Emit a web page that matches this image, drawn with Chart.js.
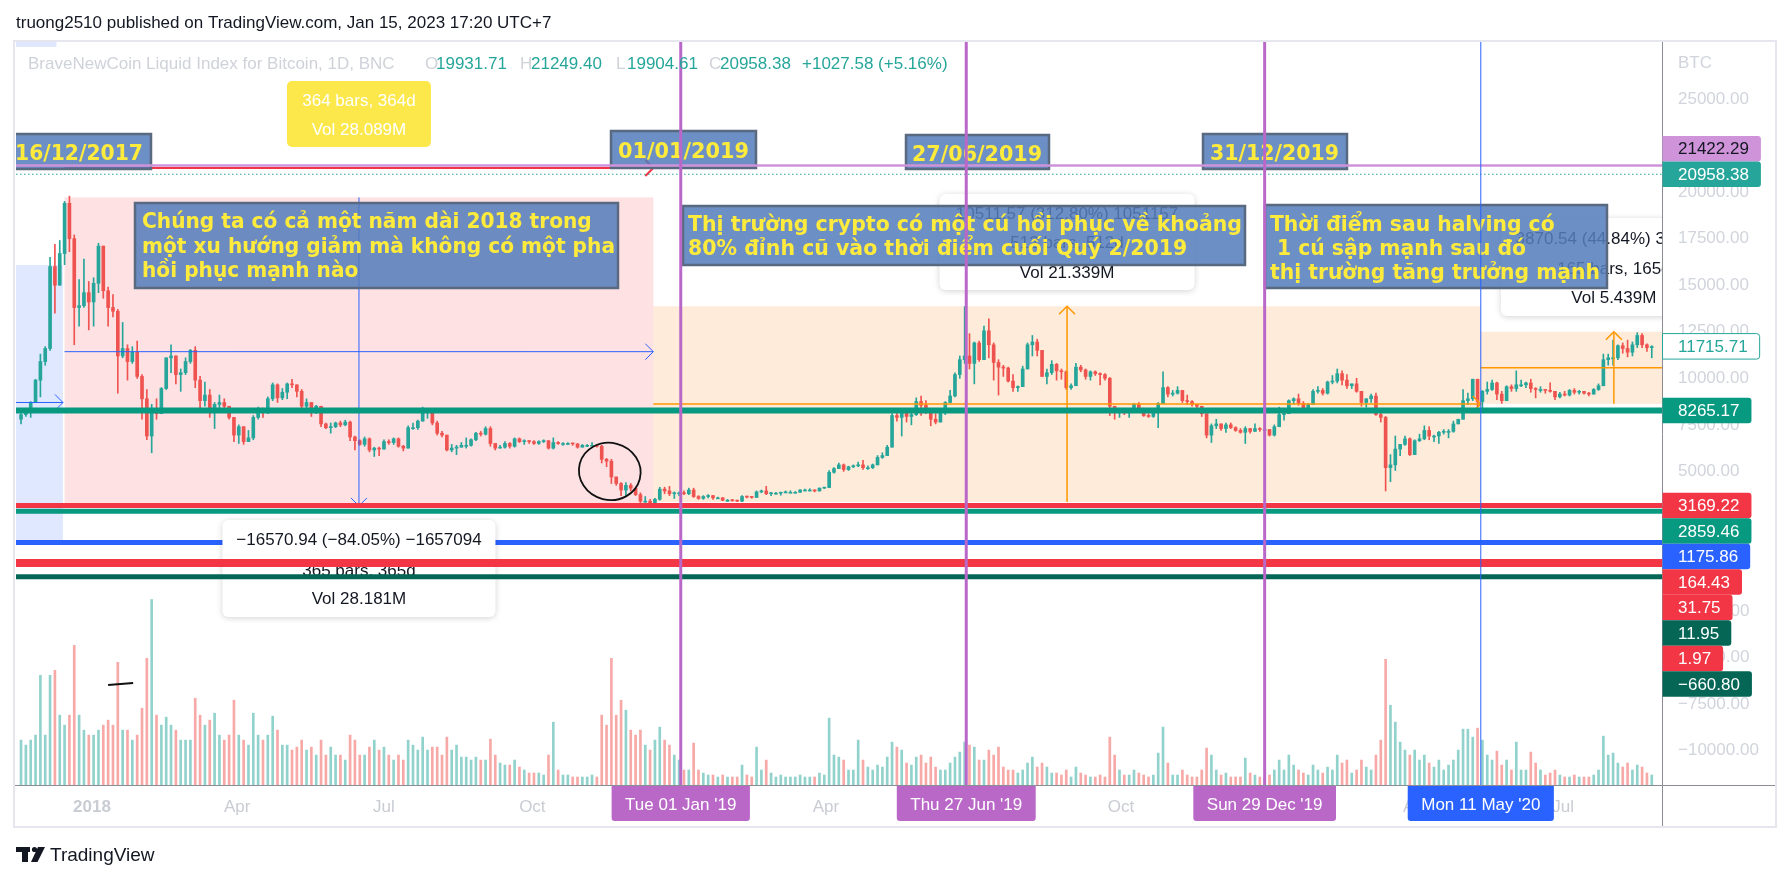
<!DOCTYPE html>
<html>
<head>
<meta charset="utf-8">
<title>BraveNewCoin Liquid Index for Bitcoin, 1D</title>
<script src="https://cdn.jsdelivr.net/npm/chart.js@4.4.1/dist/chart.umd.min.js"></script>
<style>
  html, body { margin: 0; padding: 0; background: #fff; }
  canvas { display: block; }
</style>
</head>
<body>
<canvas id="chart" width="1791" height="880"></canvas>
<script>
// 3-day candles. x values are days counted from 1 Jan 2018.
const firstDay = -44;
const stepDays = 3;
const firstOpen = 7800;

const closes = [
  // 17 Nov 2017
  8050, 8250, 8700, 9900, 10900, 11600, 16000, 15000, 16700, 19400, 17500, 13800, 13900, 14600, 14100,
  // 2018
  15100, 17100, 14700, 13800, 13600, 11200, 11600, 10900, 11400, 10100,
  8900, 6900, 8200, 8100, 9450, 11100, 11200, 10200, 10300, 10900,
  11500, 9900, 8800, 9100, 8300, 8600, 8700, 8500, 7900, 6950,
  7400, 6600, 6800, 7900, 8350, 8200, 8900, 9650, 8950, 9250,
  9700, 9650, 9300, 8500, 8700, 8250, 8500, 7550, 7350, 7400,
  7600, 7500, 7650, 6850, 6650, 6450, 6750, 6150, 6250, 6200,
  6600, 6550, 6750, 6350, 6250, 7350, 7350, 7700, 8200, 8200,
  7600, 7050, 6950, 6150, 6250, 6300, 6400, 6400, 6700, 7050,
  7000, 7300, 6500, 6250, 6300, 6500, 6350, 6750, 6600, 6650,
  6600, 6500, 6600, 6650, 6250, 6550, 6500, 6500, 6500, 6480,
  6300, 6400, 6400, 6400, 6350, 5650, 5550, 4700, 4350, 4000,
  4250, 4100, 3750, 3400, 3400, 3250, 3500, 4050, 3950, 3800,
  3850, 3850,
  // 2019
  3800, 4000, 3650, 3550, 3650, 3700, 3580, 3580, 3450, 3450,
  3420, 3400, 3650, 3620, 3600, 3900, 3950, 3800, 3830, 3830,
  3850, 3880, 3880, 3880, 4000, 4000, 4000, 3950, 4100, 4130,
  4950, 5150, 5350, 5100, 5250, 5300, 5350, 5200, 5200, 5350,
  5750, 5850, 6300, 8000, 7900, 8200, 7950, 8050, 8750, 8550,
  8200, 7800, 7650, 8150, 8700, 9050, 10200, 11000, 11200, 10800,
  11900, 11000, 12550, 11800, 10850, 10600, 10550, 9850, 9500, 9550,
  10500, 11800, 11950, 11500, 10100, 10300, 10750, 10400, 10350, 9500,
  9600, 10600, 10450, 10100, 10350, 10250, 10200, 10000, 8500, 8200,
  8300, 8150, 8250, 8600, 8300, 8000, 7950, 8200, 8650, 9500,
  9150, 9200, 9350, 8800, 8750, 8600, 8500, 8100, 6950, 7450,
  7550, 7300, 7500, 7350, 7200, 7100, 7300, 7150, 7300, 7250,
  7250,
  // 2020
  6950, 7400, 8050, 8100, 8800, 8900, 8650, 8400, 8600, 9300,
  9350, 9200, 9800, 9850, 10250, 9900, 9600, 9700, 9300, 8700,
  8900, 9050, 8050, 7900, 5200, 5350, 6200, 6450, 6750, 5900,
  6650, 6750, 7200, 6900, 6900, 7100, 7150, 7150, 7550, 7800,
  8800, 8900, 9950, 8750, 9300, 9400, 9750, 9150, 8800, 9550,
  9450, 9650, 9650, 9750, 9450, 9400, 9400, 9350, 9300, 9000,
  9150, 9100, 9350, 9250, 9300, 9200, 9150, 9400, 9600, 11000,
  11100, 11100, 11750, 11600, 11400, 11800, 12300, 11800, 11650, 11700
];

const highs = [
  8100, 8300, 8750, 9950, 11300, 11700, 16500, 17200, 17400, 19500, 19783, 17700, 15300, 16400, 15200,
  15400, 17250, 17100, 14900, 14500, 13700, 13000, 11800, 11700, 12000,
  10200, 9400, 8600, 8900, 9500, 11100, 11800, 11200, 10500, 11100,
  11550, 11700, 10100, 9800, 9400, 8700, 9100, 8900, 8500, 7900,
  7500, 7400, 7200, 8000, 8450, 8400, 9000, 9750, 9700, 9450,
  9750, 9950, 9600, 9400, 8900, 8500, 8550, 8450, 7600, 7600,
  7650, 7700, 7750, 7700, 6900, 6700, 6850, 6800, 6300, 6300,
  6700, 6700, 6800, 6800, 6400, 7450, 7600, 7750, 8450, 8250,
  8200, 7700, 7150, 6950, 6450, 6400, 6550, 6800, 6750, 7100,
  7150, 7400, 7400, 6500, 6400, 6600, 6550, 6800, 6800, 6700,
  6650, 6650, 6650, 6700, 6650, 6800, 6600, 6550, 6550, 6500,
  6500, 6450, 6450, 6550, 6400, 6400, 5700, 5650, 4700, 4400,
  4400, 4350, 4100, 3850, 3650, 3500, 3550, 4150, 4150, 4200,
  3900, 3900,
  3950, 4100, 4100, 3700, 3700, 3750, 3720, 3620, 3600, 3500,
  3500, 3460, 3700, 3680, 3650, 3950, 4000, 4200, 3870, 3880,
  3880, 3950, 3960, 3920, 4030, 4050, 4070, 4020, 4120, 4150,
  5050, 5200, 5450, 5400, 5280, 5350, 5500, 5600, 5300, 5400,
  5850, 6000, 6400, 8100, 8300, 8200, 8100, 8150, 8950, 9050,
  8800, 8200, 8100, 8250, 8750, 9350, 10300, 11200, 13850, 12400,
  11950, 12000, 12800, 13200, 11900, 11000, 10700, 10600, 10200, 9600,
  10650, 11900, 12300, 12100, 11500, 10500, 10950, 10800, 10500, 10400,
  9700, 10800, 10700, 10500, 10400, 10400, 10300, 10250, 10050, 8500,
  8400, 8350, 8300, 8650, 8700, 8400, 8100, 8300, 8700, 10350,
  9550, 9350, 9550, 9350, 9100, 8800, 8600, 8200, 8100, 7550,
  7800, 7550, 7600, 7600, 7400, 7300, 7400, 7300, 7550, 7350,
  7400,
  7250, 7500, 8450, 8250, 8850, 8950, 9150, 8750, 8650, 9400,
  9550, 9450, 9850, 10150, 10500, 10400, 10200, 9700, 10000, 9300,
  8900, 9150, 9200, 8150, 7950, 5900, 6900, 6450, 6900, 6800,
  6700, 7000, 7450, 7400, 6950, 7150, 7250, 7250, 7700, 7800,
  9400, 9200, 9950, 9950, 9350, 9800, 9900, 9800, 9300, 9600,
  9650, 10400, 9900, 9800, 9950, 9500, 9550, 9400, 9750, 9300,
  9250, 9300, 9400, 9450, 9350, 9300, 9250, 9450, 9700, 11300,
  11300, 12050, 11800, 11900, 12050, 11950, 12450, 12400, 11850, 11750
];

const lows = [
  7550, 7950, 7900, 8700, 9000, 10700, 11500, 13500, 15000, 16100, 16800, 11800, 12800, 13800, 12600,
  12800, 14600, 14300, 12800, 13300, 9200, 11100, 9900, 10800, 10000,
  7800, 6700, 6000, 7800, 8100, 9400, 10300, 9700, 9300, 10200,
  10800, 9500, 8400, 8500, 7900, 7300, 8300, 8300, 7800, 6600,
  6500, 6450, 6600, 6700, 7800, 7900, 8100, 8800, 8700, 8850,
  8900, 9500, 9000, 8350, 8300, 7950, 8100, 7400, 7300, 7050,
  7350, 7400, 7450, 6650, 6150, 6400, 6350, 6050, 5800, 5850,
  6250, 6450, 6450, 6300, 6100, 6250, 7250, 7250, 7700, 7850,
  7500, 6950, 6850, 6100, 6050, 5900, 6300, 6250, 6350, 6650,
  6900, 6950, 6350, 6150, 6250, 6250, 6250, 6300, 6550, 6450,
  6500, 6450, 6450, 6550, 6200, 6200, 6450, 6400, 6450, 6400,
  6250, 6300, 6330, 6380, 6300, 5450, 5250, 4350, 4250, 3700,
  3700, 3950, 3700, 3300, 3350, 3200, 3150, 3450, 3800, 3700,
  3550, 3700,
  3750, 3750, 3600, 3500, 3500, 3580, 3500, 3530, 3420, 3400,
  3400, 3380, 3380, 3580, 3560, 3600, 3850, 3750, 3700, 3780,
  3720, 3840, 3850, 3840, 3870, 3950, 3950, 3900, 3940, 4080,
  4120, 4900, 5150, 5000, 5050, 5200, 5250, 5100, 5100, 5150,
  5350, 5700, 5850, 6300, 7700, 6900, 7650, 7500, 8000, 8000,
  8100, 7450, 7550, 7650, 8050, 8900, 9000, 10000, 10800, 10500,
  9700, 10900, 11100, 11100, 9900, 9100, 10100, 9800, 9300, 9300,
  9800, 10550, 11200, 11200, 10100, 9700, 10200, 9900, 9950, 9400,
  9400, 9600, 10350, 9950, 9900, 10150, 9650, 9900, 8000, 7800,
  7900, 8050, 7900, 8150, 8200, 7950, 7900, 7900, 7350, 8700,
  9000, 9050, 9150, 8700, 8600, 8500, 8400, 7950, 6800, 6550,
  7300, 7200, 7100, 7300, 7150, 7050, 6500, 7050, 7200, 7150,
  7200,
  6900, 6900, 7400, 7750, 8100, 8600, 8550, 8300, 8250, 8600,
  9200, 9100, 9150, 9700, 9750, 9650, 9450, 9450, 9250, 8500,
  8450, 8700, 8000, 7650, 3950, 4450, 5050, 5850, 6400, 5850,
  5900, 6600, 6700, 6700, 6600, 6500, 7000, 6800, 7100, 7550,
  7800, 8600, 8800, 8200, 8300, 9150, 9350, 8850, 8650, 8800,
  9300, 9300, 9550, 9500, 9250, 8950, 9250, 9200, 9250, 8850,
  8950, 9050, 9050, 9150, 9150, 9150, 9050, 9150, 9350, 9600,
  10700, 10700, 11000, 11350, 11150, 11200, 11650, 11650, 11450, 11100
];

// daily volume, thousands (rough reading of the bar heights)
const volumes = [
  45, 40, 45, 50, 110, 50, 110, 115, 70, 60, 70, 140, 70, 55, 50,
  50, 55, 60, 65, 60, 123, 55, 55, 45, 50,
  77, 127, 186, 70, 60, 68, 60, 55, 45, 45,
  45, 87, 70, 60, 65, 72, 50, 45, 50, 85,
  50, 45, 40, 72, 50, 45, 50, 69, 55, 40,
  40, 35, 38, 45, 35, 38, 30, 45, 30, 38,
  30, 30, 25, 50, 45, 30, 30, 38, 45, 35,
  38, 30, 25, 30, 25, 45, 40, 35, 48, 35,
  38, 38, 30, 48, 35, 40, 28, 28, 25, 28,
  25, 25, 46, 30, 22, 20, 20, 25, 18, 15,
  12, 12, 12, 10, 30, 63, 15, 10, 10, 8,
  8, 8, 8, 10, 8, 70, 60, 127, 70, 85,
  75, 55, 50, 55, 40, 35, 45, 58, 45, 40,
  30, 25,
  15, 15, 42, 15, 12, 10, 10, 8, 10, 8,
  8, 8, 20, 10, 8, 38, 15, 25, 12, 8,
  10, 8, 8, 8, 10, 8, 8, 8, 12, 10,
  67, 30, 28, 25, 15, 15, 45, 25, 18, 15,
  20, 18, 28, 43, 38, 35, 22, 20, 28, 30,
  22, 28, 18, 15, 15, 22, 28, 33, 43, 40,
  38, 25, 25, 35, 30, 38, 18, 15, 15, 12,
  15, 22, 28, 18, 22, 18, 12, 12, 10, 15,
  8, 18, 12, 10, 8, 8, 10, 8, 48, 30,
  15, 10, 10, 15, 12, 10, 8, 10, 32, 58,
  22, 10, 10, 15, 10, 8, 8, 15, 37, 30,
  15, 10, 12, 8, 8, 8, 27, 12, 10, 8,
  8,
  10, 15, 25, 15, 30, 20, 15, 12, 10, 20,
  15, 12, 18, 15, 30, 22, 25, 12, 15, 25,
  18, 15, 30, 45, 126, 80, 63, 43, 35, 30,
  35, 25, 30, 22, 18, 25, 15, 20, 25, 35,
  56, 56, 48, 57, 45, 30, 25, 34, 20, 25,
  15, 43, 15, 15, 33, 22, 15, 10, 12, 15,
  10, 8, 8, 10, 8, 8, 8, 10, 15, 49,
  30, 32, 22, 18, 22, 15, 20, 18, 12, 10
];

const timeTicks = [0, 90, 181, 273, 365, 455, 546, 638, 730, 821, 912];
const timeTickLabels = ['2018', 'Apr', 'Jul', 'Oct', '2019', 'Apr', 'Jul', 'Oct', '2020', 'Apr', 'Jul'];
const yearTicks = [0, 365, 730];
const priceTicks = [-10000, -7500, -5000, -2500, 0, 2500, 5000, 7500, 10000, 12500, 15000, 17500, 20000, 22500, 25000];

// horizontal lines drawn on the chart
const priceLineValues = [21422.29, 20958.38, 8265.17, 3169.22, 2859.46, 1175.86, 164.43, 31.75, 11.95, 1.97, -660.80];
const priceLineColors = ['#ce93d8', '#26a69a', '#089981', '#f23645', '#089981', '#2962ff', '#f23645', '#f23645', '#056656', '#f23645', '#056656'];
const priceLineWidths = [2.5, 1, 6, 5, 5, 5, 5, 5, 5, 5, 5];

// price axis labels
const axisLabelValues = [21422.29, 20958.38, 11715.71, 8265.17, 3169.22, 2859.46, 1175.86, 164.43, 31.75, 11.95, 1.97, -660.80];
const axisLabelFills = ['#ce93d8', '#26a69a', '#ffffff', '#089981', '#f23645', '#089981', '#2962ff', '#f23645', '#f23645', '#056656', '#f23645', '#056656'];
const axisLabelInk = ['#131722', '#fff', '#26a69a', '#fff', '#fff', '#fff', '#fff', '#fff', '#fff', '#fff', '#fff', '#fff'];

// vertical markers
const markerDays = [365, 542, 727, 861];
const markerTexts = ["Tue 01 Jan '19", "Thu 27 Jun '19", "Sun 29 Dec '19", "Mon 11 May '20"];
const markerColors = ['#ba68c8', '#ba68c8', '#ba68c8', '#2962ff'];

// date & price range drawings: [fromDay, toDay, lowPrice, highPrice]
const rangeBoxes = [
  [-60, -18, 1316, 16085],
  [-17, 348, 3144, 19715],
  [348, 861, 3360, 13871],
  [861, 1026, 8631, 12502]
];
const rangeFills = ['rgba(41,98,255,0.15)', 'rgba(242,54,69,0.15)', 'rgba(245,124,0,0.15)', 'rgba(245,124,0,0.15)'];
const rangeTexts = [
  ['\u221216570.94 (\u221284.05%) \u22121657094', '365 bars, 365d', 'Vol 28.181M'],
  ['10511.57 (312.80%) 1051157', '512 bars, 512d', 'Vol 21.339M'],
  ['3870.54 (44.84%) 387054', '165 bars, 165d', 'Vol 5.439M']
];

const notes = [
  ['Chúng ta có cả một năm dài 2018 trong', 'một xu hướng giảm mà không có một pha', 'hồi phục mạnh nào'],
  ['Thị trường crypto có một cú hồi phục về khoảng', '80% đỉnh cũ vào thời điểm cuối Quý 2/2019'],
  ['Thời điểm sau halving có', ' 1 cú sập mạnh sau đó', 'thị trường tăng trưởng mạnh']
];
const dateNotes = ['16/12/2017', '01/01/2019', '27/06/2019', '31/12/2019'];

const FONT = '"Liberation Sans", Arial, sans-serif';
const NOTE_FONT = 'bold 22px "DejaVu Sans", Verdana, sans-serif';
const UP = '#26a69a';
const DOWN = '#ef5350';

const days = closes.map((_, i) => firstDay + stepDays * i);
const opens = closes.map((c, i) => (i === 0 ? firstOpen : closes[i - 1]));
const rising = closes.map((c, i) => c >= opens[i]);

function fmtPrice(v) {
  return (v < 0 ? '\u2212' : '') + Math.abs(v).toFixed(2);
}

function line(ctx, x0, y0, x1, y1, color, width, dash) {
  ctx.save();
  ctx.strokeStyle = color;
  ctx.lineWidth = width;
  if (dash) ctx.setLineDash(dash);
  ctx.beginPath();
  ctx.moveTo(x0, y0);
  ctx.lineTo(x1, y1);
  ctx.stroke();
  ctx.restore();
}

function arrowH(ctx, x0, x1, y, color, width) {
  line(ctx, x0, y, x1, y, color, width);
  ctx.save();
  ctx.strokeStyle = color;
  ctx.lineWidth = width;
  ctx.beginPath();
  ctx.moveTo(x1 - 8, y - 8);
  ctx.lineTo(x1, y);
  ctx.lineTo(x1 - 8, y + 8);
  ctx.stroke();
  ctx.restore();
}

function arrowV(ctx, x, y0, y1, color, width) {
  const s = y1 > y0 ? 1 : -1;
  line(ctx, x, y0, x, y1, color, width);
  ctx.save();
  ctx.strokeStyle = color;
  ctx.lineWidth = width;
  ctx.beginPath();
  ctx.moveTo(x - 8, y1 - 8 * s);
  ctx.lineTo(x, y1);
  ctx.lineTo(x + 8, y1 - 8 * s);
  ctx.stroke();
  ctx.restore();
}

function noteBox(ctx, x0, y0, x1, y1, lines, tx, baselines, targetW) {
  ctx.fillStyle = 'rgba(84,125,188,0.86)';
  ctx.fillRect(x0, y0, x1 - x0, y1 - y0);
  ctx.strokeStyle = '#596a80';
  ctx.lineWidth = 2.5;
  ctx.strokeRect(x0, y0, x1 - x0, y1 - y0);
  ctx.font = NOTE_FONT;
  const widest = Math.max(...lines.map(t => ctx.measureText(t).width));
  const sx = targetW / widest;
  ctx.fillStyle = '#ffeb3b';
  ctx.textAlign = 'left';
  ctx.textBaseline = 'alphabetic';
  lines.forEach((t, i) => {
    ctx.save();
    ctx.translate(tx, baselines[i]);
    ctx.scale(sx, 1);
    ctx.fillText(t, 0, 0);
    ctx.restore();
  });
}

function infoBox(ctx, cx, top, w, h, lines, offsets) {
  ctx.save();
  ctx.shadowColor = 'rgba(0,0,0,0.18)';
  ctx.shadowBlur = 6;
  ctx.shadowOffsetY = 1;
  ctx.fillStyle = '#fff';
  ctx.beginPath();
  ctx.roundRect(cx - w / 2, top, w, h, 6);
  ctx.fill();
  ctx.restore();
  ctx.font = '17px ' + FONT;
  ctx.fillStyle = '#131722';
  ctx.textAlign = 'center';
  ctx.textBaseline = 'alphabetic';
  lines.forEach((t, i) => ctx.fillText(t, cx, top + offsets[i]));
}

const drawings = {
  id: 'drawings',
  beforeDatasetsDraw(chart) {
    const { ctx, chartArea: a, scales: { x, y } } = chart;
    ctx.save();
    ctx.beginPath();
    ctx.rect(a.left, a.top, a.width, a.height);
    ctx.clip();
    rangeBoxes.forEach((r, i) => {
      const x0 = x.getPixelForValue(r[0]);
      const x1 = x.getPixelForValue(r[1]);
      const y0 = y.getPixelForValue(r[3]);
      const y1 = y.getPixelForValue(r[2]);
      ctx.fillStyle = rangeFills[i];
      ctx.fillRect(x0, y0, x1 - x0, y1 - y0);
    });
    // light blue strip at the top left (another range, mostly off screen)
    ctx.fillStyle = rangeFills[0];
    ctx.fillRect(a.left, a.top, x.getPixelForValue(-22) - a.left, 5);
    ctx.restore();
  },
  afterDatasetsDraw(chart) {
    const { ctx, chartArea: a, scales: { x, y } } = chart;
    const X = v => x.getPixelForValue(v);
    const Y = v => y.getPixelForValue(v);
    ctx.save();
    ctx.beginPath();
    ctx.rect(a.left, a.top, a.width, a.height);
    ctx.clip();

    // range tool arrows
    const [bl, pk, p1, p2] = rangeBoxes;
    arrowH(ctx, a.left - 20, X(bl[1]), Y((bl[2] + bl[3]) / 2), '#2962ff', 1);
    arrowH(ctx, X(pk[0]), X(pk[1]), Y((pk[2] + pk[3]) / 2), '#2962ff', 1);
    arrowV(ctx, X((pk[0] + pk[1]) / 2), Y(pk[3]), Y(pk[2]), '#2962ff', 1);
    arrowH(ctx, X(p1[0]), X(p1[1]), Y((p1[2] + p1[3]) / 2), '#ff9800', 1.5);
    arrowV(ctx, X((p1[0] + p1[1]) / 2), Y(p1[2]), Y(p1[3]), '#ff9800', 1.5);
    arrowH(ctx, X(p2[0]), X(p2[1]), Y((p2[2] + p2[3]) / 2), '#ff9800', 1.5);
    arrowV(ctx, X((p2[0] + p2[1]) / 2), Y(p2[2]), Y(p2[3]), '#ff9800', 1.5);

    // red date range line of the 2018 bear year
    arrowH(ctx, X(pk[0]), X(pk[1]), Y(21294), '#f23645', 2);

    // date notes along the top
    noteBox(ctx, 14, 134, 151, 169, [dateNotes[0]], 15, [160], 128);
    noteBox(ctx, 611, 131, 756, 168, [dateNotes[1]], 618, [158], 131);
    noteBox(ctx, 906, 135, 1049, 169, [dateNotes[2]], 912, [161], 130);
    noteBox(ctx, 1203, 134, 1347, 169, [dateNotes[3]], 1210, [160], 129);

    const hl = i => line(ctx, a.left, Y(priceLineValues[i]), a.right, Y(priceLineValues[i]),
      priceLineColors[i], priceLineWidths[i], i === 1 ? [1.5, 2.5] : null);
    [0, 1, 2, 3, 4, 5].forEach(hl);

    // measurement label of the 2018 range
    const pkMid = X((pk[0] + pk[1]) / 2);
    infoBox(ctx, pkMid, 520, 273, 97, rangeTexts[0], [25, 56, 84]);
    [8, 6, 7, 9, 10].forEach(hl);

    // yellow bars count label
    ctx.fillStyle = '#fde84c';
    ctx.beginPath();
    ctx.roundRect(pkMid - 72, 81, 144, 66, 5);
    ctx.fill();
    ctx.fillStyle = '#fff';
    ctx.font = '17px ' + FONT;
    ctx.textAlign = 'center';
    ctx.fillText('364 bars, 364d', pkMid, 106);
    ctx.fillText('Vol 28.089M', pkMid, 135);

    infoBox(ctx, X((p1[0] + p1[1]) / 2), 194, 255, 96, rangeTexts[1], [25, 54, 84]);
    infoBox(ctx, X((p2[0] + p2[1]) / 2), 218, 226, 98, rangeTexts[2], [26, 56, 85]);

    noteBox(ctx, 135, 203, 618, 288, notes[0], 142, [228, 253, 277], 473);
    noteBox(ctx, 683, 206, 1245, 265, notes[1], 688, [231, 255], 554);
    noteBox(ctx, 1265, 205, 1607, 288, notes[2], 1270, [231, 255, 279], 330);

    // hand drawn circle and dash
    ctx.strokeStyle = '#111';
    ctx.lineWidth = 1.8;
    ctx.beginPath();
    ctx.ellipse(X(321), Y(5000), 31, 28.5, 0.25, 0, Math.PI * 2);
    ctx.stroke();
    line(ctx, X(10), Y(-6470), X(25.5), Y(-6360), '#111', 2);

    // vertical markers
    markerDays.forEach((d, i) => {
      line(ctx, X(d), a.top, X(d), a.bottom, markerColors[i], i < 3 ? 3 : 1);
    });
    ctx.restore();
  },
  afterDraw(chart) {
    const { ctx, chartArea: a, scales: { x, y } } = chart;
    const X = v => x.getPixelForValue(v);
    const Y = v => y.getPixelForValue(v);
    const ax = y.left;

    // separators and frame
    line(ctx, ax + 0.5, a.top, ax + 0.5, 827, '#8a8d96', 1);
    line(ctx, 14, a.bottom + 0.5, 1776, a.bottom + 0.5, '#8a8d96', 1);
    ctx.strokeStyle = '#e6e6ee';
    ctx.lineWidth = 2;
    ctx.strokeRect(14, 41, 1762, 786);

    // price axis labels
    ctx.font = '17px ' + FONT;
    const LH = 25.5;
    const ys = axisLabelValues.map(v => Y(v));
    ys[0] = Math.min(ys[0], ys[1] - LH);
    for (let i = 2; i < ys.length; i++) ys[i] = Math.max(ys[i], ys[i - 1] + LH);
    axisLabelValues.forEach((v, i) => {
      const t = fmtPrice(v);
      const w = ctx.measureText(t).width + 27.5;
      ctx.beginPath();
      ctx.roundRect(ax + 0.5, ys[i] - LH / 2, w, LH, [0, 3, 3, 0]);
      ctx.fillStyle = axisLabelFills[i];
      ctx.fill();
      if (axisLabelFills[i] === '#ffffff') {
        ctx.strokeStyle = '#26a69a';
        ctx.lineWidth = 1;
        ctx.stroke();
      }
      ctx.fillStyle = axisLabelInk[i];
      ctx.textAlign = 'left';
      ctx.textBaseline = 'middle';
      ctx.fillText(t, ax + 16, ys[i] + 1);
    });
    ctx.textBaseline = 'alphabetic';
    ctx.fillStyle = '#d1d4dc';
    ctx.fillText('BTC', ax + 16, 68);

    // time axis marker labels
    markerDays.forEach((d, i) => {
      const cx = X(d);
      const t = markerTexts[i];
      const w = ctx.measureText(t).width + 27;
      ctx.beginPath();
      ctx.roundRect(cx - w / 2, a.bottom + 1, w, 35, [0, 0, 3, 3]);
      ctx.fillStyle = markerColors[i];
      ctx.fill();
      ctx.fillStyle = '#fff';
      ctx.textAlign = 'center';
      ctx.fillText(t, cx, a.bottom + 25);
    });

    // header and legend
    ctx.textAlign = 'left';
    ctx.fillStyle = '#131722';
    ctx.fillText('truong2510 published on TradingView.com, Jan 15, 2023 17:20 UTC+7', 16, 28);
    const grey = '#cfd2d9';
    ctx.fillStyle = grey;
    ctx.fillText('BraveNewCoin Liquid Index for Bitcoin, 1D, BNC', 28, 69);
    const keys = ['O', 'H', 'L', 'C'];
    const vals = ['19931.71', '21249.40', '19904.61', '20958.38'];
    const keyX = [425, 520, 616, 709];
    keys.forEach((k, i) => {
      ctx.fillStyle = grey;
      ctx.fillText(k, keyX[i], 69);
      ctx.fillStyle = UP;
      ctx.fillText(vals[i], keyX[i] + 11, 69);
    });
    ctx.fillText('+1027.58 (+5.16%)', 802, 69);

    // TradingView logo
    ctx.fillStyle = '#131722';
    ctx.fillRect(16, 847, 14, 5);
    ctx.fillRect(22, 847, 6, 15);
    ctx.beginPath();
    ctx.arc(34.5, 849.5, 2.6, 0, Math.PI * 2);
    ctx.fill();
    ctx.beginPath();
    ctx.moveTo(38, 847);
    ctx.lineTo(45, 847);
    ctx.lineTo(37.5, 862);
    ctx.lineTo(31, 862);
    ctx.closePath();
    ctx.fill();
    ctx.font = '19px ' + FONT;
    ctx.fillText('TradingView', 50, 861);
  }
};

Chart.defaults.font.family = FONT;

new Chart(document.getElementById('chart'), {
  type: 'bar',
  data: {
    datasets: [
      {
        label: 'Volume',
        yAxisID: 'yv',
        order: 3,
        grouped: false,
        barThickness: 2,
        data: days.map((d, i) => ({ x: d, y: volumes[i] })),
        backgroundColor: rising.map(u => (u ? 'rgba(38,166,154,0.5)' : 'rgba(239,83,80,0.5)'))
      },
      {
        label: 'Wicks',
        yAxisID: 'y',
        order: 2,
        grouped: false,
        barThickness: 1,
        data: days.map((d, i) => ({
          x: d,
          y: [Math.min(lows[i], opens[i], closes[i]), Math.max(highs[i], opens[i], closes[i])]
        })),
        backgroundColor: rising.map(u => (u ? UP : DOWN))
      },
      {
        label: 'Bodies',
        yAxisID: 'y',
        order: 1,
        grouped: false,
        barThickness: 3,
        minBarLength: 1,
        data: days.map((d, i) => ({
          x: d,
          y: [Math.min(opens[i], closes[i]), Math.max(opens[i], closes[i])]
        })),
        backgroundColor: rising.map(u => (u ? UP : DOWN))
      }
    ]
  },
  options: {
    responsive: false,
    animation: false,
    devicePixelRatio: 1,
    layout: { padding: { left: 16, top: 42, right: 15, bottom: 55 } },
    plugins: { legend: { display: false }, tooltip: { enabled: false } },
    scales: {
      x: {
        type: 'linear',
        min: -47.12,
        max: 973.34,
        offset: false,
        grid: { display: false, drawTicks: false },
        border: { display: false },
        afterBuildTicks: s => { s.ticks = timeTicks.map(v => ({ value: v })); },
        afterFit: s => { s.height = 40; },
        ticks: {
          autoSkip: false,
          maxRotation: 0,
          padding: 12,
          color: '#c9ccd3',
          font: c => ({ family: FONT, size: 17, weight: c.tick && yearTicks.includes(c.tick.value) ? 'bold' : 'normal' }),
          callback: (v, i) => timeTickLabels[i]
        }
      },
      y: {
        position: 'right',
        min: -11842,
        max: 28061,
        grid: { display: false, drawTicks: false },
        border: { display: false },
        afterBuildTicks: s => { s.ticks = priceTicks.map(v => ({ value: v })); },
        afterFit: s => { s.width = 114; },
        ticks: {
          autoSkip: false,
          padding: 16,
          color: '#d1d4dc',
          font: { family: FONT, size: 17 },
          callback: v => fmtPrice(v)
        }
      },
      yv: { display: false, min: 0, max: 745 }
    }
  },
  plugins: [drawings]
});
</script>
</body>
</html>
